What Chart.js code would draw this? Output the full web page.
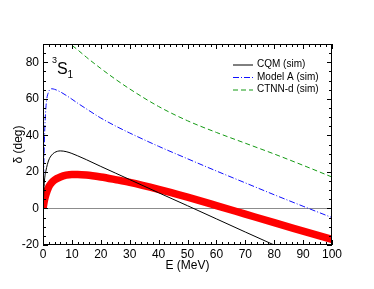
<!DOCTYPE html>
<html>
<head>
<meta charset="utf-8">
<script src="https://cdn.jsdelivr.net/npm/chart.js@4/dist/chart.umd.min.js"></script>
<style>
  html, body { margin: 0; padding: 0; background: #fff; }
</style>
</head>
<body>
<canvas id="chart" width="374" height="289"></canvas>
<script>
const energy = [0, 0.5, 1, 2, 3, 4, 6, 8, 10, 12, 15, 20, 25, 30, 40, 50, 60, 70, 80, 90, 100]
const cqm = [0, 15, 20.5, 26.5, 29.2, 30.6, 31.5, 31.1, 30.1, 28.8, 26.7, 23, 19.4, 15.8, 8.6, 1.5, -5.7, -12.9, -20, -27, -34]
const modelA = [0, 38, 55, 64, 65.5, 65.2, 63.8, 61.9, 59.8, 57.6, 54.5, 49.5, 45.2, 41.3, 34, 27.2, 20.5, 14, 7.5, 1.2, -5]
const ctnnd = [null, null, null, null, null, null, null, 91.9, 89.3, 86.8, 82.8, 76.6, 70.8, 65.4, 55.8, 48, 41.6, 35.7, 29.8, 23.6, 17.2]
const band = [0, 4.5, 7.5, 11.8, 14.1, 15.6, 17.2, 18.2, 18.6, 18.6, 18.3, 17.2, 15.8, 14.3, 10.5, 6.2, 1.6, -3.1, -7.8, -12.4, -17]

const xTicks = [0, 10, 20, 30, 40, 50, 60, 70, 80, 90, 100]
const yTicks = [-20, 0, 20, 40, 60, 80]

const FONT = "'Liberation Sans', Arial, sans-serif"

function points(values) {
    return energy.map((e, i) => ({ x: e, y: values[i] }))
}

// box, inward ticks, legend and the 3S1 label
const decorations = {
    id: "decorations",
    afterDraw(chart) {
        const ctx = chart.ctx
        const { left, right, top, bottom } = chart.chartArea
        const xs = chart.scales.x
        const ys = chart.scales.y
        ctx.save()
        ctx.strokeStyle = "#000"
        ctx.lineWidth = 1
        ctx.strokeRect(left + 0.5, top + 0.5, right - left - 1, bottom - top - 1)

        ctx.beginPath()
        for (let v = 0; v <= 100; v += 2) {
            const px = Math.round(xs.getPixelForValue(v)) + 0.5
            const len = v % 10 === 0 ? 5 : 3
            ctx.moveTo(px, bottom)
            ctx.lineTo(px, bottom - len)
            ctx.moveTo(px, top)
            ctx.lineTo(px, top + len)
        }
        for (let v = -20; v <= 90; v += 5) {
            const py = Math.round(ys.getPixelForValue(v)) + 0.5
            const len = v % 20 === 0 ? 5 : 3
            ctx.moveTo(left, py)
            ctx.lineTo(left + len, py)
            ctx.moveTo(right, py)
            ctx.lineTo(right - len, py)
        }
        ctx.stroke()

        // legend
        ctx.font = "10px " + FONT
        ctx.textBaseline = "middle"
        ctx.textAlign = "left"
        const rows = [64.5, 77, 89.5]
        for (let i = 0; i < 3; i++) {
            const ds = chart.data.datasets[i]
            ctx.strokeStyle = ds.borderColor
            ctx.lineWidth = 1
            ctx.setLineDash(ds.borderDash || [])
            ctx.beginPath()
            ctx.moveTo(233, rows[i] + 0.5)
            ctx.lineTo(253, rows[i] + 0.5)
            ctx.stroke()
            ctx.setLineDash([])
            ctx.fillStyle = "#000"
            ctx.fillText(ds.label, 257, rows[i])
        }

        // 3S1
        ctx.fillStyle = "#000"
        ctx.textBaseline = "alphabetic"
        ctx.font = "9px " + FONT
        ctx.fillText("3", left + 9, top + 19)
        ctx.font = "16px " + FONT
        ctx.fillText("S", left + 14, top + 29.5)
        ctx.font = "10px " + FONT
        ctx.fillText("1", left + 24.5, top + 34)
        ctx.restore()
    }
}

const ctx = document.getElementById("chart").getContext("2d")
const chart = new Chart(ctx, {
    type: "line",
    data: {
        datasets: [
            {
                label: "CQM (sim)",
                data: points(cqm),
                borderColor: "#000000",
                borderWidth: 1
            },
            {
                label: "Model A (sim)",
                data: points(modelA),
                borderColor: "#1010ff",
                borderWidth: 1,
                borderDash: [6, 2, 1, 2]
            },
            {
                label: "CTNN-d (sim)",
                data: points(ctnnd),
                borderColor: "#139a13",
                borderWidth: 1,
                borderDash: [5, 3]
            },
            {
                label: "band",
                data: points(band),
                borderColor: "#ff0000",
                borderWidth: 7.5
            }
        ]
    },
    options: {
        responsive: false,
        animation: false,
        devicePixelRatio: 1,
        layout: { padding: { left: 0, top: 44, right: 42, bottom: 0 } },
        elements: {
            point: { radius: 0 },
            line: { cubicInterpolationMode: "monotone", fill: false }
        },
        plugins: {
            legend: { display: false },
            tooltip: { enabled: false }
        },
        scales: {
            x: {
                type: "linear",
                min: 0,
                max: 100,
                afterBuildTicks: (scale) => { scale.ticks = xTicks.map((v) => ({ value: v })) },
                afterFit: (scale) => { scale.height = 44 },
                grid: { display: false, drawTicks: false },
                border: { display: false },
                ticks: { color: "#000", font: { family: FONT, size: 12 }, padding: 2, maxRotation: 0 },
                title: {
                    display: true,
                    text: "E (MeV)",
                    color: "#000",
                    font: { family: FONT, size: 12 },
                    padding: { top: 0, bottom: 16 }
                }
            },
            y: {
                type: "linear",
                min: -20,
                max: 90,
                afterBuildTicks: (scale) => { scale.ticks = yTicks.map((v) => ({ value: v })) },
                afterFit: (scale) => { scale.width = 43 },
                grid: {
                    drawTicks: false,
                    color: (c) => (c.tick && c.tick.value === 0 ? "#8c8c8c" : "rgba(0,0,0,0)"),
                    lineWidth: 1
                },
                border: { display: false },
                ticks: { color: "#000", font: { family: FONT, size: 12 }, padding: 4 },
                title: {
                    display: true,
                    text: "δ (deg)",
                    color: "#000",
                    font: { family: FONT, size: 12 },
                    padding: { top: 11, bottom: 0 }
                }
            }
        }
    },
    plugins: [decorations]
})
</script>
</body>
</html>
